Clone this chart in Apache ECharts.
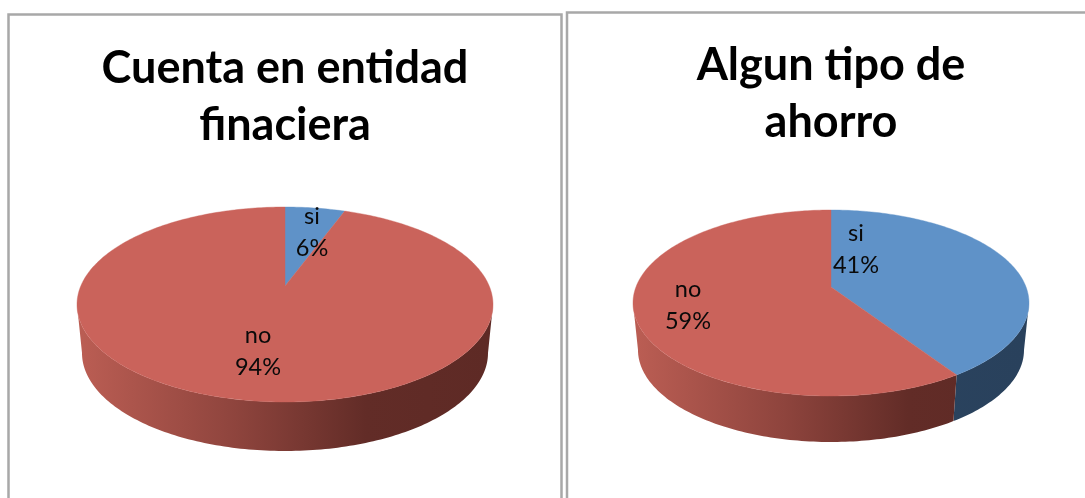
<!DOCTYPE html>
<html>
<head>
<meta charset="utf-8">
<style>html,body{margin:0;padding:0;background:#fff;overflow:hidden}#c{width:1085px;height:498px}</style>
<script src="https://cdn.jsdelivr.net/npm/echarts@6/dist/echarts.min.js"></script>
</head>
<body>
<div id="c"></div>
<script>
// ---- data ----
const categories = ['si', 'no'];
const cuentaValues = [5.6, 94.4];
const ahorroValues = [40.7, 59.3];
const cuentaTitle = 'Cuenta en entidad\nfinaciera';
const ahorroTitle = 'Algun tipo de\nahorro';

// ---- style and layout ----
const topColors = ['#5F92C8', '#CA635B'];
const sideColors = [
  [[0, '#2C4764'], [1, '#29415C']],
  [[0, '#BA5D53'], [0.38, '#8E443D'], [0.7, '#622C27'], [1, '#5E2A25']]
];
const pies = [
  { cx: 285, top: { cy: 304.5, rx: 208, ry: 97.5 }, bottom: { cy: 353, rx: 203, ry: 98 }, k: 0.19,
    labels: [[27, -54], [-27, 65]] },
  { cx: 831, top: { cy: 303, rx: 198, ry: 93 }, bottom: { cy: 350, rx: 193, ry: 92 }, k: 0.172,
    labels: [[25, -38], [-143, 18]] }
];

// perspective projection of a point of the pie's circle on an ellipse
function project(pie, e, deg) {
  const t = deg * Math.PI / 180, u = Math.sin(t), v = -Math.cos(t), k = pie.k, q = 1 - k * k;
  const w = 1 - k * v;
  return [pie.cx + e.rx * Math.sqrt(q) * u / w, e.cy - e.ry * k + e.ry * q * v / w];
}
function arc(pie, e, a, b) {
  const n = Math.max(2, Math.ceil(Math.abs(b - a))), pts = [];
  for (let i = 0; i <= n; i++) pts.push(project(pie, e, a + (b - a) * i / n));
  return pts;
}
function sliceRender(values, pie) {
  const total = values.reduce((s, x) => s + x, 0);
  const edge = Math.acos(-pie.k) * 180 / Math.PI;
  return function (params, api) {
    const i = params.dataIndex, val = api.value(0);
    let before = 0;
    for (let j = 0; j < i; j++) before += values[j];
    const a = before / total * 360, b = a + val / total * 360;
    const children = [];
    const from = Math.max(a, edge), to = Math.min(b, 360 - edge);
    if (to > from) {
      children.push({
        type: 'polygon',
        shape: { points: arc(pie, pie.top, from, to).concat(arc(pie, pie.bottom, to, from)) },
        style: {
          fill: new echarts.graphic.LinearGradient(pie.cx - pie.bottom.rx, 0, pie.cx + pie.bottom.rx, 0,
            sideColors[i].map(s => ({ offset: s[0], color: s[1] })), true),
          stroke: null
        }
      });
    }
    const centre = [pie.cx, pie.top.cy - pie.top.ry * pie.k];
    children.push({
      type: 'polygon',
      shape: { points: [centre].concat(arc(pie, pie.top, a, b)) },
      style: { fill: topColors[i], stroke: topColors[i], lineWidth: 0.4 }
    });
    children.push({
      type: 'text',
      z2: 10,
      style: {
        x: centre[0] + pie.labels[i][0], y: centre[1] + pie.labels[i][1],
        text: categories[i] + '\n' + Math.round(val / total * 100) + '%',
        fill: '#0A0A0A', font: '400 23.5px Lato, sans-serif', lineHeight: 32,
        align: 'center', verticalAlign: 'middle'
      }
    });
    return { type: 'group', children };
  };
}
function seriesFor(values, pie) {
  return {
    type: 'custom', coordinateSystem: 'none', silent: true, clip: false,
    data: categories.map((c, i) => ({ name: c, value: [values[i]] })),
    renderItem: sliceRender(values, pie)
  };
}
const titleStyle = { fontFamily: 'Lato, sans-serif', fontWeight: 700, fontSize: 45, lineHeight: 57, color: '#000' };
const chart = echarts.init(document.getElementById('c'), null, { renderer: 'canvas' });
chart.setOption({
  animation: false,
  backgroundColor: '#fff',
  title: [
    { text: cuentaTitle, left: 285, top: 40, textAlign: 'center', padding: 0, textStyle: titleStyle },
    { text: ahorroTitle, left: 831, top: 37, textAlign: 'center', padding: 0, textStyle: titleStyle }
  ],
  graphic: [
    { type: 'rect', shape: { x: 8.5, y: 14.5, width: 553, height: 520 }, style: { fill: 'none', stroke: '#A8A8A8', lineWidth: 2.5 } },
    { type: 'rect', shape: { x: 567, y: 12.5, width: 560, height: 520 }, style: { fill: 'none', stroke: '#A8A8A8', lineWidth: 2.5 } }
  ],
  series: [seriesFor(cuentaValues, pies[0]), seriesFor(ahorroValues, pies[1])]
});
</script>
</body>
</html>
